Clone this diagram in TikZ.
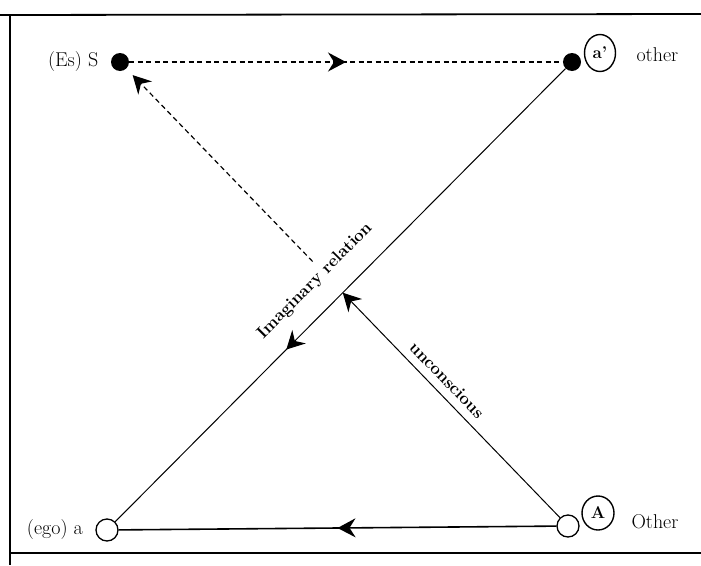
\documentclass[tikz,border=0pt]{standalone}
\usepackage{tikz}
\usetikzlibrary{arrows.meta,positioning,shapes.geometric,decorations.markings,calc}

\begin{document}
\begin{tikzpicture}[x=1pt,y=-1pt]
    \tikzstyle{dot}=[circle, fill=black, minimum size=18pt, inner sep=0pt]
    \tikzstyle{hole}=[circle, draw, line width=1.3pt, fill=white, minimum size=22pt, inner sep=0pt]
    \tikzstyle{ring}=[ellipse, draw, line width=1.4pt, inner sep=0pt, minimum width=31pt,
      minimum height=37pt, font=\bfseries\fontsize{17}{20}\selectfont]
    \tikzstyle{lbl}=[font=\fontsize{20}{24}\selectfont]
    \tikzstyle{rel}=[font=\bfseries\fontsize{17}{20}\selectfont]
    \tikzstyle{tip}=[-{Stealth[length=18pt,width=19pt,inset=6pt]}]
    \tikzstyle{dotted line}=[line width=1.2pt, dash pattern=on 5pt off 3.5pt]
    \tikzset{midtip/.style={postaction={decorate}, decoration={markings,
      mark=at position #1 with {\arrow{Stealth[length=18pt,width=19pt,inset=6pt]}}}}}

    \useasboundingbox (0,0) rectangle (701,565);

    % frame of the page
    \draw[line width=1.8pt] (0,15) -- (701,14);
    \draw[line width=1.5pt] (10,15) -- (10,565);
    \draw[line width=1.8pt] (10,553) -- (701,553);

    \node[dot] (S) at (120,62) {};
    \node[dot] (ap) at (572,62) {};
    \node[hole] (a) at (107,530) {};
    \node[hole] (A) at (568,526) {};

    \node[ring] (apring) at (600,53) {a'};
    \node[ring, minimum width=32pt, minimum height=34pt] (Aring) at (598,513) {A};

    \node[lbl, left=9pt of S] (Slbl) {(Es) S};
    \node[lbl, left=9pt of a] (albl) {(ego) a};
    \node[lbl, anchor=west] (other) at (633,55) {other};
    \node[lbl, anchor=west] (Other) at (628,522) {Other};

    \draw[line width=1.6pt, midtip=0.5] (A) -- (a);
    \draw[dotted line, midtip=0.5] (S) -- (ap);
    \draw[line width=1pt, midtip=0.62] (ap) -- (a);

    \coordinate (cross) at (intersection of A--S and ap--a);
    \coordinate (gap) at ($(S)!0.43!(A)$);
    \draw[line width=1pt, tip] (A) -- (cross);
    \draw[dotted line, tip, shorten >=9pt] (gap) -- (S);

    \node[rel, rotate=45.3] (imag) at (315,281) {Imaginary relation};
    \node[rel, rotate=-46] (uncon) at (447,380) {unconscious};
\end{tikzpicture}
\end{document}
